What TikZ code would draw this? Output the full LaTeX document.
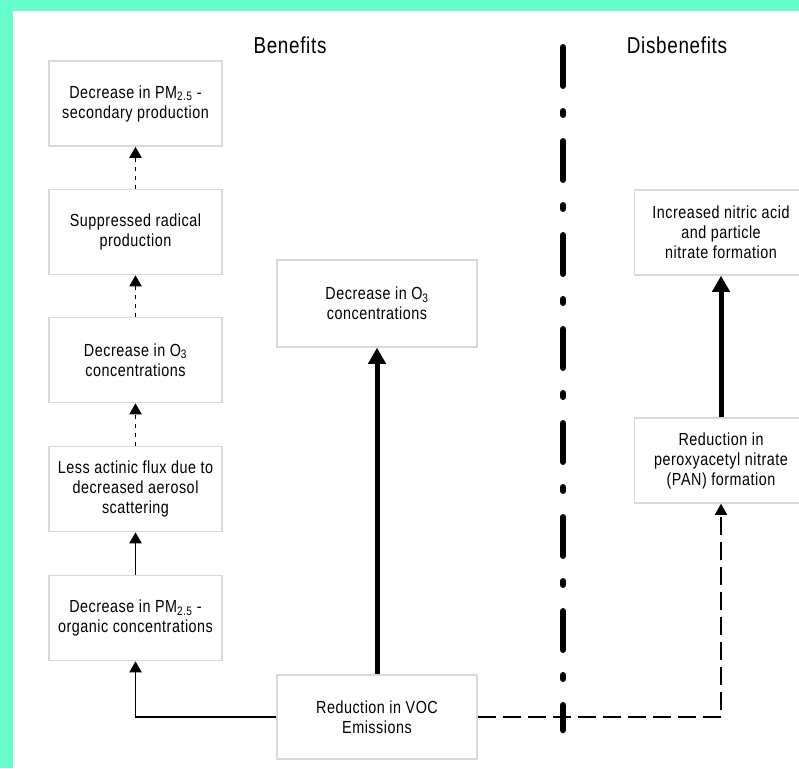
\documentclass[tikz,border=0pt]{standalone}
\usepackage{fontspec}
\setmainfont[FakeStretch=0.82,LetterSpace=3]{Liberation Sans}
\usetikzlibrary{arrows.meta}
\definecolor{mint}{RGB}{102,255,204}
\definecolor{boxline}{RGB}{216,216,216}
\definecolor{ink}{RGB}{0,0,0}
\begin{document}
\begin{tikzpicture}[x=1pt,y=-1pt,
  effbox/.style={draw=boxline, line width=1.5pt, fill=white,
    minimum width=173pt, minimum height=85pt, inner sep=2pt,
    align=center, text=ink, font=\fontsize{17.5}{20}\selectfont},
  heading/.style={text=ink, font=\fontsize{23}{26}\selectfont},
  thinarrow/.style={draw=ink, line width=1.9pt,
    -{Triangle[length=11pt,width=12pt]}},
  dotarrow/.style={thinarrow, dash pattern=on 4pt off 5pt},
  dasharrow/.style={thinarrow, dash pattern=on 18pt off 7pt},
  thickarrow/.style={draw=black, line width=5pt,
    -{Triangle[length=16pt,width=17pt]}},
  separator/.style={draw=black, line width=6.5pt, line cap=round,
    dash pattern=on 38.5pt off 25.5pt on 3.5pt off 26.5pt}
]
% page and frame
\clip (0,0) rectangle (799,768);
\fill[white] (0,0) rectangle (799,768);
\fill[mint] (0,0) rectangle (799,11);
\fill[mint] (0,0) rectangle (13,768);

% column headings
\node[heading] (hBen) at (290,45) {Benefits};
\node[heading] (hDis) at (677,45) {Disbenefits};

% benefits chain
\node[effbox] (pmsec) at (135.5,103.5) {Decrease in PM\textsubscript{2.5} -\\secondary production};
\node[effbox] (radical) at (135.5,232) {Suppressed radical\\production};
\node[effbox] (ozoneL) at (135.5,360) {Decrease in O\textsubscript{3}\\concentrations};
\node[effbox] (actinic) at (135.5,489) {Less actinic flux due to\\decreased aerosol\\scattering};
\node[effbox] (pmorg) at (135.5,618) {Decrease in PM\textsubscript{2.5} -\\organic concentrations};

% central boxes
\node[effbox, minimum width=200pt, minimum height=87pt] (ozoneM) at (377,303.5) {Decrease in O\textsubscript{3}\\concentrations};
\node[effbox, minimum width=200pt, minimum height=84pt] (voc) at (377,717) {Reduction in VOC\\Emissions};

% disbenefits
\node[effbox] (nitric) at (721,232.5) {Increased nitric acid\\and particle\\nitrate formation};
\node[effbox] (pan) at (721,460.5) {Reduction in\\peroxyacetyl nitrate\\(PAN) formation};

% dividing line
\coordinate (sepTop) at (563,47.25);
\coordinate (sepBot) at (563,730);
\draw[separator] (sepTop) -- (sepBot);

% connectors
\draw[thinarrow] (voc.west) -| (pmorg.south);
\draw[thinarrow] (pmorg.north) -- (actinic.south);
\draw[dotarrow] (actinic.north) -- (ozoneL.south);
\draw[dotarrow] (ozoneL.north) -- (radical.south);
\draw[dotarrow] (radical.north) -- (pmsec.south);
\draw[thickarrow] (voc.north) -- (ozoneM.south);
\draw[dasharrow] (voc.east) -| (pan.south);
\draw[thickarrow] (pan.north) -- (nitric.south);
\end{tikzpicture}
\end{document}
